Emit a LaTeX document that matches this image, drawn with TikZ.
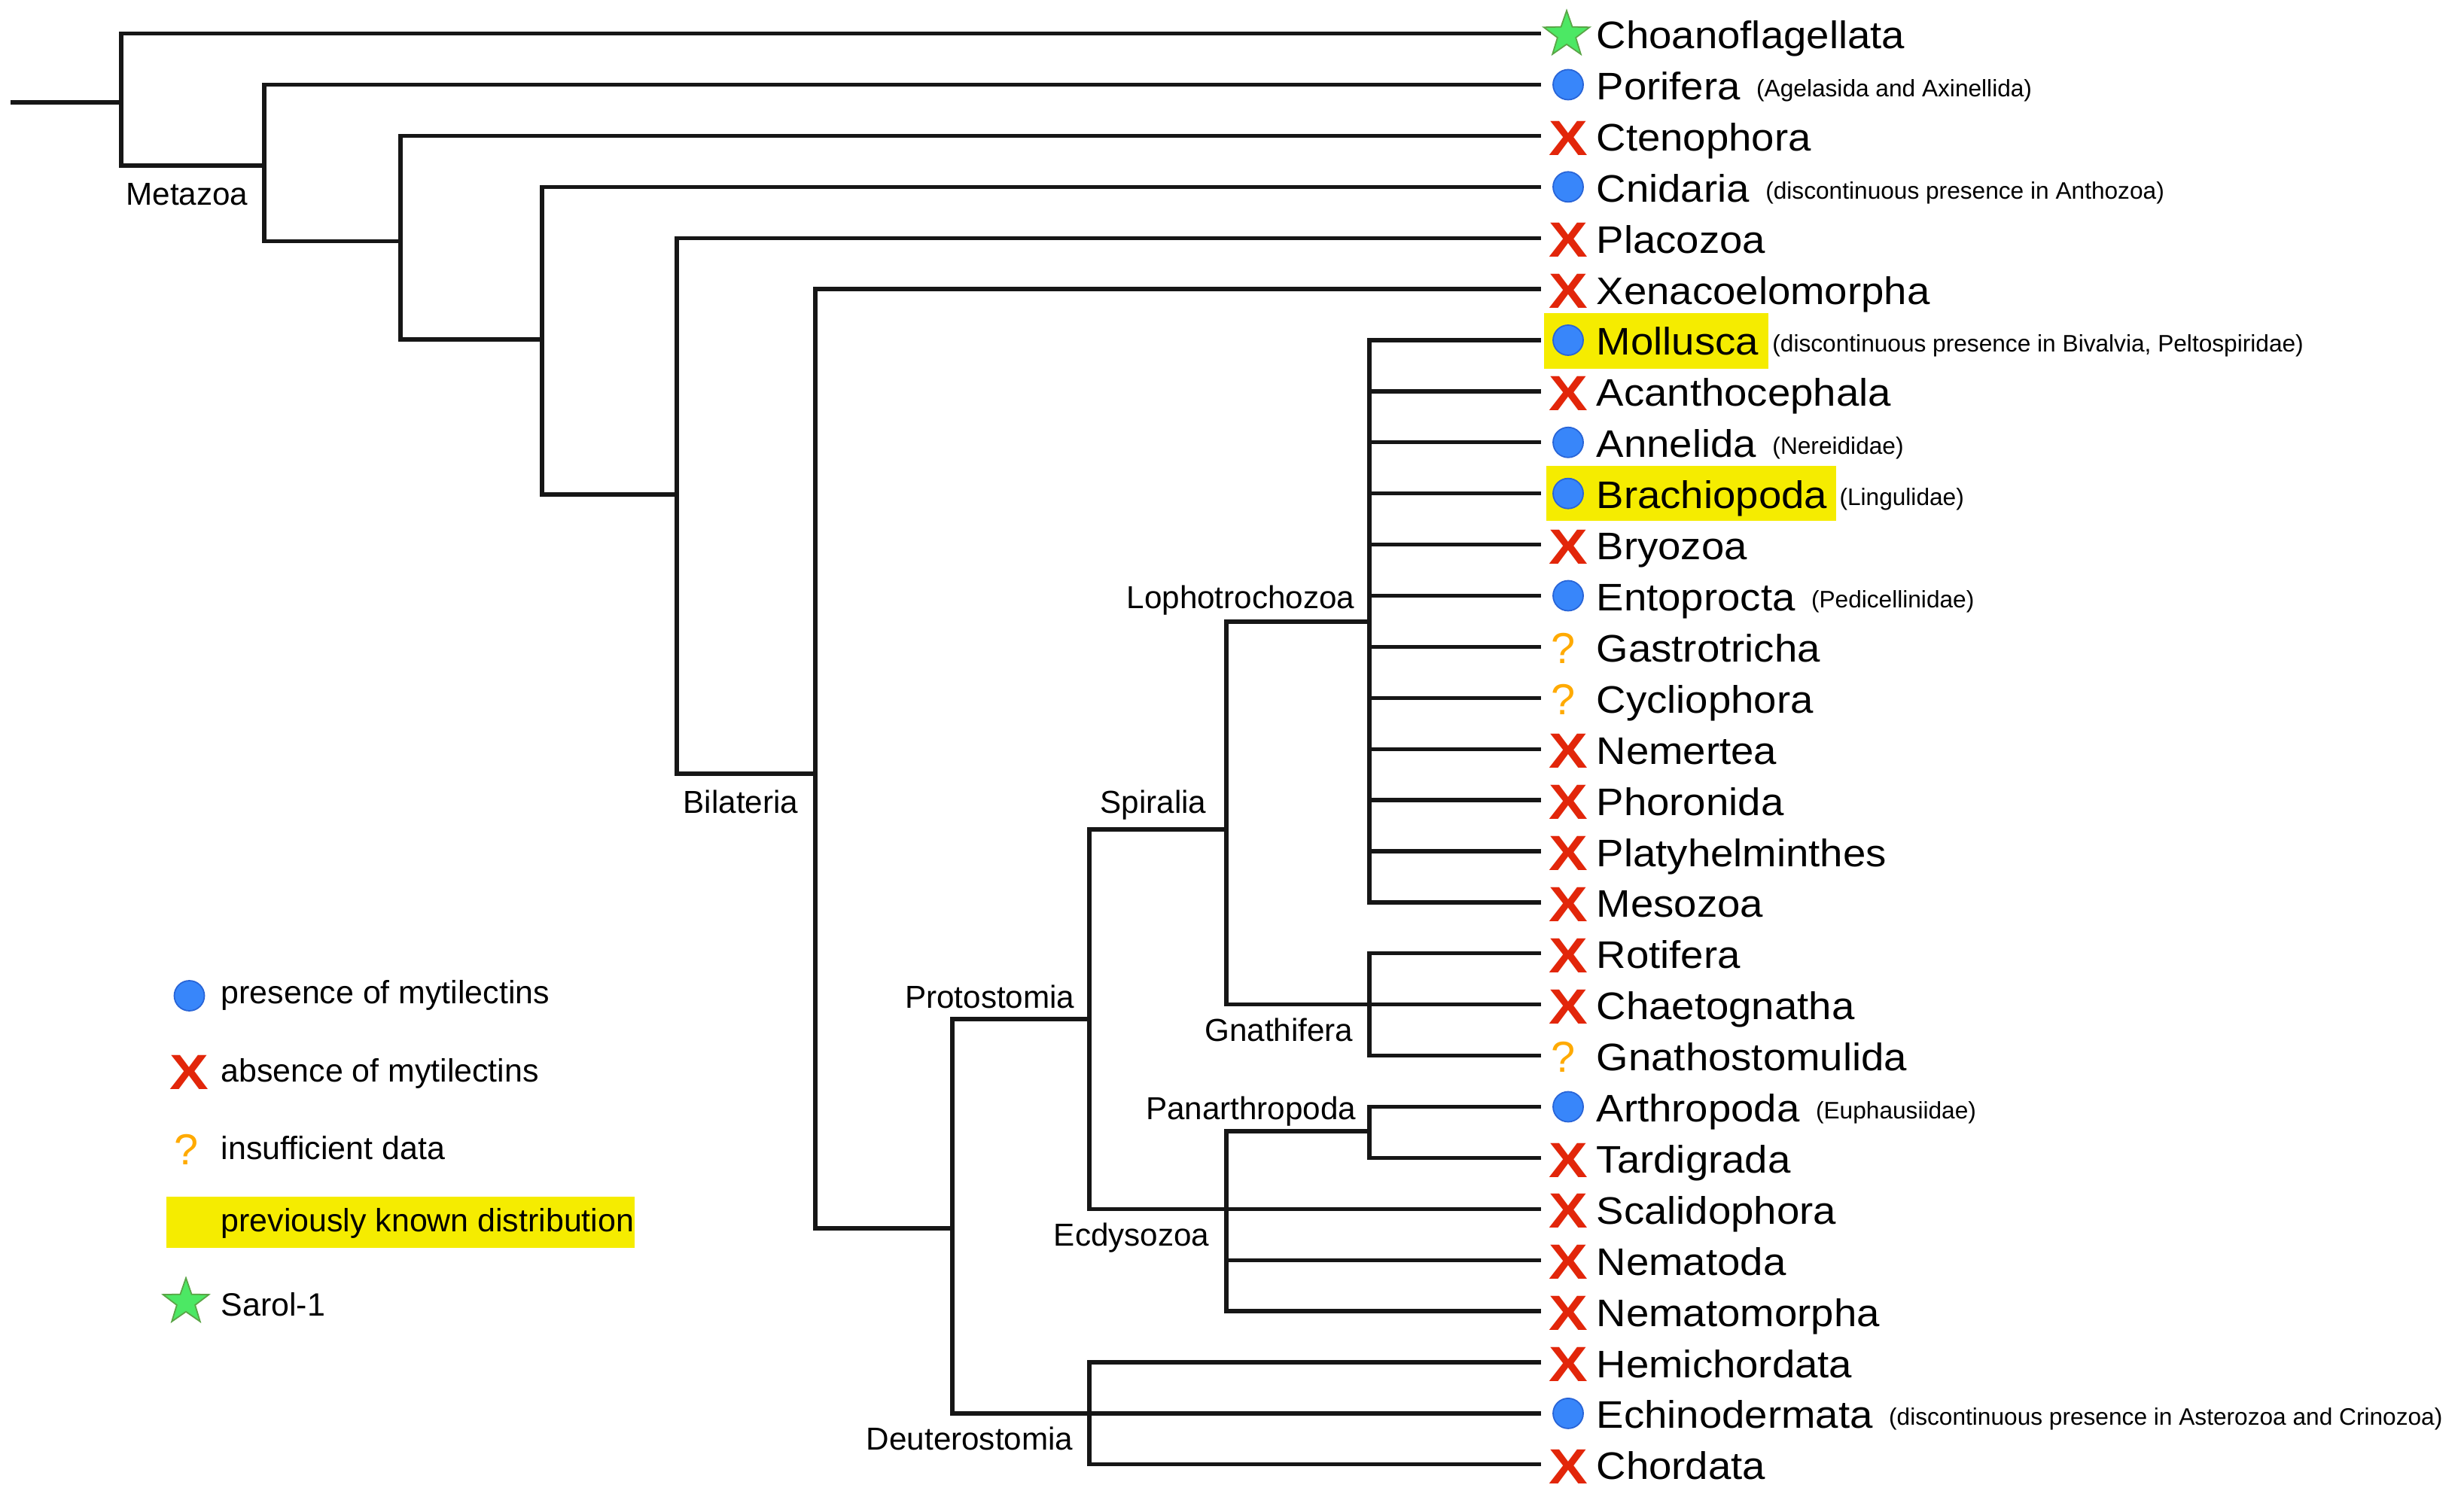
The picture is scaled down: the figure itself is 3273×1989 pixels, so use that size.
\documentclass[tikz,border=0pt]{standalone}
\usepackage{fontspec}
\setmainfont{Liberation Sans}
\newfontfamily\tipfamily[FakeStretch=1.07]{Liberation Sans}
\newfontfamily\xfamily[FakeStretch=1.18]{Liberation Sans}
\usetikzlibrary{shapes.geometric,calc}
\pgfdeclarelayer{bg}
\pgfsetlayers{bg,main}
\definecolor{cblue}{RGB}{56,134,250}
\definecolor{cbluedk}{RGB}{40,100,215}
\definecolor{cred}{RGB}{226,38,10}
\definecolor{corange}{RGB}{255,170,0}
\definecolor{cgreen}{RGB}{76,232,100}
\definecolor{cgreendk}{RGB}{90,165,70}
\definecolor{hlyellow}{RGB}{245,236,0}
\definecolor{linec}{RGB}{22,22,22}
\newcommand\mytip[4]{%
  \coordinate (t#1) at (2047,#2);
  \node (s#1) at (2083,#2) [#3];
  \node[tipname] (n#1) at (2120,#2+20) {#4};
}
\begin{document}
\begin{tikzpicture}[x=0.01cm,y=-0.01cm,
  branch/.style={draw=linec,line width=0.053cm,line join=miter},
  tipname/.style={anchor=base west,inner sep=0,font=\tipfamily\fontsize{14.5}{17}\selectfont},
  extra/.style={anchor=base west,inner sep=0,font=\fontsize{9}{11}\selectfont},
  clade/.style={anchor=base east,inner sep=0,font=\fontsize{12}{14}\selectfont},
  legtext/.style={anchor=base west,inner sep=0,font=\fontsize{12.2}{14}\selectfont},
  symc/.style={circle,fill=cblue,draw=cbluedk,line width=0.5pt,minimum size=0.4cm,inner sep=0,node contents={}},
  symx/.style={inner sep=0,text=cred,font=\xfamily\bfseries\fontsize{18.7}{20}\selectfont,yshift=-0.03cm,node contents={X}},
  symq/.style={inner sep=0,text=corange,font=\fontsize{16.4}{18}\selectfont,xshift=-0.06cm,yshift=-0.02cm,node contents={?}},
  syms/.style={star,star points=5,star point ratio=2.5,minimum size=0.64cm,inner sep=0,fill=cgreen,draw=cgreendk,line width=0.5pt,xshift=-0.02cm,yshift=-0.015cm,node contents={}}
]
\useasboundingbox (0,0) rectangle (3273,1989);

% tips
\mytip{0}{44.6}{syms}{Choanoflagellata}
\mytip{1}{112.5}{symc}{Porifera}
\mytip{2}{180.4}{symx}{Ctenophora}
\mytip{3}{248.3}{symc}{Cnidaria}
\mytip{4}{316.2}{symx}{Placozoa}
\mytip{5}{384.1}{symx}{Xenacoelomorpha}
\mytip{6}{452.0}{symc}{Mollusca}
\mytip{7}{519.9}{symx}{Acanthocephala}
\mytip{8}{587.8}{symc}{Annelida}
\mytip{9}{655.7}{symc}{Brachiopoda}
\mytip{10}{723.6}{symx}{Bryozoa}
\mytip{11}{791.5}{symc}{Entoprocta}
\mytip{12}{859.4}{symq}{Gastrotricha}
\mytip{13}{927.3}{symq}{Cycliophora}
\mytip{14}{995.2}{symx}{Nemertea}
\mytip{15}{1063.1}{symx}{Phoronida}
\mytip{16}{1131.0}{symx}{Platyhelminthes}
\mytip{17}{1198.9}{symx}{Mesozoa}
\mytip{18}{1266.8}{symx}{Rotifera}
\mytip{19}{1334.7}{symx}{Chaetognatha}
\mytip{20}{1402.6}{symq}{Gnathostomulida}
\mytip{21}{1470.5}{symc}{Arthropoda}
\mytip{22}{1538.4}{symx}{Tardigrada}
\mytip{23}{1606.3}{symx}{Scalidophora}
\mytip{24}{1674.2}{symx}{Nematoda}
\mytip{25}{1742.1}{symx}{Nematomorpha}
\mytip{26}{1810.0}{symx}{Hemichordata}
\mytip{27}{1877.9}{symc}{Echinodermata}
\mytip{28}{1945.8}{symx}{Chordata}

% extra notes
\node[extra] (e1) at ($(n1.base east)+(20,-4)$) {(Agelasida and Axinellida)};
\node[extra] (e3) at ($(n3.base east)+(20,-4)$) {(discontinuous presence in Anthozoa)};
\node[extra] (e6) at ($(n6.base east)+(17,-4)$) {(discontinuous presence in Bivalvia, Peltospiridae)};
\node[extra] (e8) at ($(n8.base east)+(20,-4)$) {(Nereididae)};
\node[extra] (e9) at ($(n9.base east)+(15,-4)$) {(Lingulidae)};
\node[extra] (e11) at ($(n11.base east)+(20,-4)$) {(Pedicellinidae)};
\node[extra] (e21) at ($(n21.base east)+(20,-4)$) {(Euphausiidae)};
\node[extra] (e27) at ($(n27.base east)+(20,-4)$) {(discontinuous presence in Asterozoa and Crinozoa)};

% internal nodes
\coordinate (root) at (14,136);
\coordinate (nA) at (161,136);
\coordinate (nMet) at (351,220);
\coordinate (n2) at (532,320.5);
\coordinate (n3) at (720,451);
\coordinate (n4) at (899,657);
\coordinate (nBil) at (1083,1028);
\coordinate (nPD) at (1265,1632);
\coordinate (nProt) at (1447,1354);
\coordinate (nDeut) at (1447,1877.9);
\coordinate (nSpir) at (1629,1102);
\coordinate (nEcd) at (1629,1606.3);
\coordinate (nLoph) at (1819,826);
\coordinate (nGna) at (1819,1334.7);
\coordinate (nPan) at (1819,1503);

\draw[branch] (root) -- (nA);
\foreach \p/\c in {nA/t0, nA/nMet, nMet/t1, nMet/n2, n2/t2, n2/n3, n3/t3, n3/n4,
  n4/t4, n4/nBil, nBil/t5, nBil/nPD, nPD/nProt, nPD/nDeut, nDeut/t26, nDeut/t27,
  nDeut/t28, nProt/nSpir, nProt/nEcd, nSpir/nLoph, nSpir/nGna, nGna/t18, nGna/t19,
  nGna/t20, nEcd/nPan, nEcd/t23, nEcd/t24, nEcd/t25, nPan/t21, nPan/t22}
  \draw[branch] (\p) |- (\c);
\foreach \c in {6,...,17}
  \draw[branch] (nLoph) |- (t\c);

% clade labels
\node[clade] (lMet) at (330,273) {Metazoa};
\node[clade] (lBil) at (1061,1081) {Bilateria};
\node[clade] (lLoph) at (1800,808.5) {Lophotrochozoa};
\node[clade] (lSpir) at (1603,1081) {Spiralia};
\node[clade] (lProt) at (1428,1339.5) {Protostomia};
\node[clade] (lGna) at (1798,1383.5) {Gnathifera};
\node[clade] (lPan) at (1802,1487) {Panarthropoda};
\node[clade] (lEcd) at (1607,1655) {Ecdysozoa};
\node[clade] (lDeut) at (1426,1926) {Deuterostomia};

% legend
\node (lg1) at (251.5,1323) [symc];
\node[legtext] (lt1) at (293,1333) {presence of mytilectins};
\node (lg2) at (251.5,1422) [symx];
\node[legtext] (lt2) at (293,1437) {absence of mytilectins};
\node (lg3) at (253.5,1525) [symq];
\node[legtext] (lt3) at (293,1540) {insufficient data};
\node[legtext] (lt4) at (293,1636) {previously known distribution};
\node (lg5) at (249,1728.5) [syms];
\node[legtext] (lt5) at (293,1748) {Sarol-1};

% background and highlights
\coordinate (h6a) at (2051,416.5);
\coordinate (h6b) at (0,490);
\coordinate (h9a) at (2054,619.5);
\coordinate (h9b) at (0,692);
\begin{pgfonlayer}{bg}
  \fill[white] (0,0) rectangle (3273,1989);
  \fill[hlyellow] (h6a) rectangle ($(n6.east |- h6b)+(12,0)$);
  \fill[hlyellow] (h9a) rectangle ($(n9.east |- h9b)+(11,0)$);
  \fill[hlyellow] (221,1590) rectangle (843,1658);
\end{pgfonlayer}
\end{tikzpicture}
\end{document}
